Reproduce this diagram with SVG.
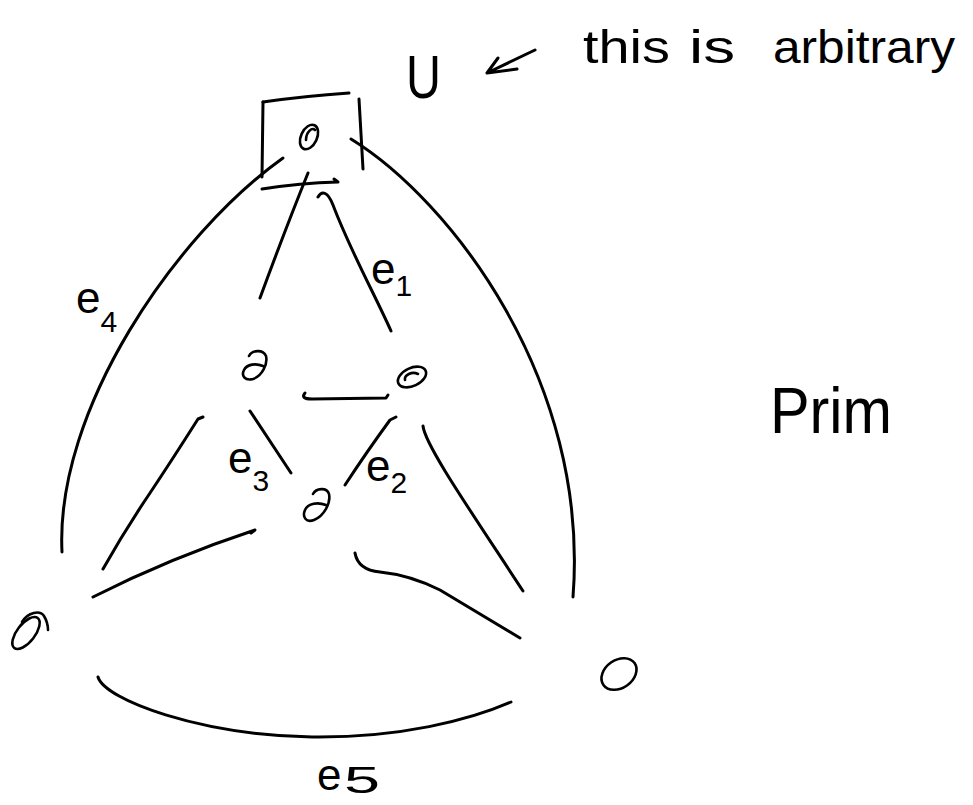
<svg xmlns="http://www.w3.org/2000/svg" width="973" height="805" viewBox="0 0 973 805">
<style>
.s{fill:none;stroke:#000;stroke-width:3;stroke-linecap:round;stroke-linejoin:round}
.n{fill:none;stroke:#000;stroke-width:2.6;stroke-linecap:round}
.t{font-family:"Liberation Sans",Arial,sans-serif;fill:#000}
.e{font-size:44px}
.d{font-size:30px}
</style>
<rect width="973" height="805" fill="#fff"/>
<g id="connectors">
  <path class="s" d="M283,158 C175,235 55,410 62,552"/>
  <path class="s" d="M351,139 C450,200 590,380 573,597"/>
  <path class="s" d="M308,173 Q285,230 260,298"/>
  <path class="s" d="M318,197 C322,190 328,192 333,205 C350,250 375,295 391,331"/>
  <path class="s" d="M305,393 Q300,399 312,399 L386,398 L388,395"/>
  <path class="s" d="M250,411 L291,473"/>
  <path class="s" d="M396,417 L390,420 Q368,450 345,485"/>
  <path class="s" d="M203,417 L198,419 Q172,460 150,493 Q125,530 103,569"/>
  <path class="s" d="M93,597 Q170,558 255,530 L251,533"/>
  <path class="s" d="M423,426 C425,445 470,510 523,591"/>
  <path class="s" d="M355,553 Q358,570 380,572 Q410,575 440,590 L520,638"/>
  <path class="s" d="M98,677 C105,700 200,735 312,737 C400,738 470,720 511,702"/>
</g>
<g id="node-top">
  <path class="s" d="M263,102 Q305,96 349,93"/>
  <path class="s" d="M263,102 L262,177"/>
  <path class="s" d="M359,99 L363,169"/>
  <ellipse class="n" cx="309" cy="137" rx="8" ry="13" transform="rotate(25 309 137)"/>
  <path class="n" d="M306,140 C306,132 312,127 315,130"/>
</g>
<g id="cut">
  <path class="s" d="M262,189 Q300,183 338,182 L334,179"/>
</g>
<g id="node-left-mid">
  <path class="n" d="M249,356 C252,350 263,349 266,356 C268,364 262,376 253,379 C245,381 241,376 244,370 C247,364 256,363 263,366"/>
</g>
<g id="node-right-mid">
  <ellipse class="n" cx="412" cy="377" rx="15" ry="9" transform="rotate(-25 412 377)"/>
  <path class="n" d="M405,380 C404,375 412,371 418,374"/>
</g>
<g id="node-center">
  <path class="n" d="M313,494 C316,488 327,487 329,494 C331,503 324,516 314,520 C306,523 302,517 305,510 C308,503 318,502 326,505"/>
</g>
<g id="node-bottom-left">
  <ellipse class="n" cx="26" cy="633" rx="9" ry="19" transform="rotate(38 26 633)"/>
  <path class="n" d="M22,622 C28,612 40,610 44,616 C47,621 48,626 48,630"/>
</g>
<g id="node-bottom-right">
  <ellipse class="n" cx="619" cy="674" rx="19" ry="14" transform="rotate(-35 619 674)"/>
</g>
<g id="labels" class="t">
  <text class="e" x="371" y="284">e<tspan class="d" dy="12">1</tspan></text>
  <text class="e" x="366" y="481">e<tspan class="d" dy="12">2</tspan></text>
  <text class="e" x="228" y="473">e<tspan class="d" dy="18">3</tspan></text>
  <text class="e" x="76" y="313">e<tspan class="d" dy="19">4</tspan></text>
  <text class="e" x="317" y="790">e<tspan x="344" dy="3" style="font-size:36px" textLength="36" lengthAdjust="spacingAndGlyphs">5</tspan></text>
</g>
<g id="annotation">
  <text class="t" x="406" y="98" font-size="62" textLength="35" lengthAdjust="spacingAndGlyphs">U</text>
  <path class="s" d="M535,50 L487,73 M487,73 L498,58 M487,73 L517,69"/>
  <text class="t" y="63" font-size="46"><tspan x="583" textLength="87" lengthAdjust="spacingAndGlyphs">this</tspan><tspan x="689" textLength="46" lengthAdjust="spacingAndGlyphs">is</tspan><tspan x="773" textLength="182" lengthAdjust="spacingAndGlyphs">arbitrary</tspan></text>
  <text class="t" x="770" y="433" font-size="64" textLength="122" lengthAdjust="spacingAndGlyphs">Prim</text>
</g>
</svg>
